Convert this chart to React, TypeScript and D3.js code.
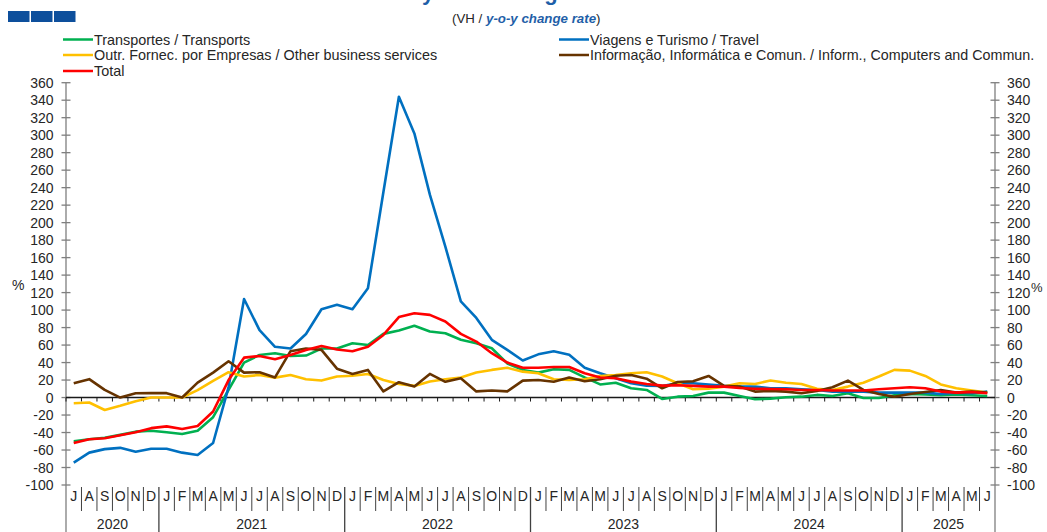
import { scaleBand, scaleLinear, line } from 'd3'

// months Jul 2020 .. Jun 2025
const monthLabels = [
  'J', 'A', 'S', 'O', 'N', 'D',
  'J', 'F', 'M', 'A', 'M', 'J', 'J', 'A', 'S', 'O', 'N', 'D',
  'J', 'F', 'M', 'A', 'M', 'J', 'J', 'A', 'S', 'O', 'N', 'D',
  'J', 'F', 'M', 'A', 'M', 'J', 'J', 'A', 'S', 'O', 'N', 'D',
  'J', 'F', 'M', 'A', 'M', 'J', 'J', 'A', 'S', 'O', 'N', 'D',
  'J', 'F', 'M', 'A', 'M', 'J',
]
const yearLabels = ['2020', '2021', '2022', '2023', '2024', '2025']
const yearMonths = [6, 12, 12, 12, 12, 6]
const yTicks = [-100, -80, -60, -40, -20, 0, 20, 40, 60, 80, 100, 120, 140, 160, 180, 200, 220, 240, 260, 280, 300, 320, 340, 360]

const transports = [
  -50, -47.7, -46, -42.7, -39, -38, -39.7, -41.6, -38, -22.5, 8.7, 40,
  48.7, 50.6, 47.5, 48, 56, 56, 62, 60, 72.8, 76.6, 82, 75.5,
  73.5, 66, 62, 56.4, 39, 31.6, 28.5, 32.3, 31.6, 23, 15, 17,
  10.6, 8.7, -1.6, 1, 1.8, 5.6, 5.6, 1.8, -2, -1.2, 0.3, 1,
  3, 1.8, 5, -0.5, -0.5, 2.6, 4, 3.4, 2.6, 3.4, 2.6, 1.8,
]
const travel = [
  -74.4, -63, -59, -57.5, -62, -58.5, -58.5, -63, -65.6, -52, 12, 112.7,
  77, 58, 56, 72.7, 101, 106, 101, 125, 235, 344, 302, 232,
  172.6, 110, 91, 66, 54.5, 42.3, 49.4, 53, 49, 34, 27.7, 22,
  16.3, 13.6, 13.3, 16.3, 16.3, 14.8, 13.3, 12.5, 12.5, 10.6, 10.6, 9.5,
  8.7, 6.8, 6.8, 6.8, 5.6, 5.6, 5.6, 5.6, 4, 5.6, 5, 6.8,
]
const otherBusiness = [
  -6.5, -5.7, -14.2, -9.5, -4.2, 0, 0, 0, 8.4, 19, 29, 24,
  25.8, 22.8, 25.8, 21, 19.4, 24, 25, 27, 20, 15.6, 13.3, 18.3,
  21, 23, 28.6, 31.6, 34, 29.6, 27.7, 21, 20, 21, 24.7, 25.8,
  27.7, 29, 24, 16.3, 9.5, 10, 12.5, 16.3, 15.5, 19.4, 17, 15.5,
  10, 8.7, 12.5, 17, 24, 31.6, 30.8, 24.7, 15, 10.6, 8, 5.6,
]
const informComputers = [
  16.4, 21, 8.7, 0, 4.9, 5, 5, 0, 17, 28.5, 41.5, 28.5,
  29, 23, 53, 56, 54.5, 33, 27, 31.6, 7, 17.5, 12.6, 27,
  18, 22, 7, 8, 7, 19.4, 20, 18, 22.8, 18.6, 21, 25,
  25.8, 21.6, 10.6, 17.8, 18.6, 24.7, 13.3, 12.5, 6.8, 7.6, 6.8, 5,
  7.6, 11.7, 19.4, 8.7, 4.1, 1, 4, 6.4, 8.7, 5.6, 6.8, 5.6,
]
const total = [
  -52, -47.7, -46.6, -43, -39.7, -35, -33, -36, -32.5, -16, 20, 45.6,
  47.5, 43.8, 48.7, 54.4, 59, 55, 53, 58, 71.6, 92, 96.4, 94.5,
  87, 72.8, 64, 50.7, 40, 34, 34, 35, 35, 27.7, 23, 22,
  18.2, 15.5, 13.6, 14, 13.3, 12.5, 12.5, 11, 10, 9.8, 9.5, 8.7,
  8.7, 8, 8, 8, 9.5, 10.6, 11.7, 10.6, 6.8, 5.6, 6.4, 5,
]

const series = [
  { name: 'Transportes / Transports', values: transports, color: '#00b050' },
  { name: 'Viagens e Turismo / Travel', values: travel, color: '#0070c0' },
  { name: 'Outr. Fornec. por Empresas / Other business services', values: otherBusiness, color: '#ffc000' },
  { name: 'Informação, Informática e Comun. / Inform., Computers and Commun.', values: informComputers, color: '#663300' },
  { name: 'Total', values: total, color: '#ff0000' },
]

const W = 1047, H = 532
const left = 66, right = 995, top = 82.7, bottom = 485
const font = '"Liberation Sans", Arial, sans-serif'
const txt = '#262626'

export default function App() {
  const idx = monthLabels.map((_, i) => i)
  const x = scaleBand<number>().domain(idx).range([left, right])
  const y = scaleLinear().domain([-100, 360]).range([bottom, top])
  const bw = x.bandwidth()
  const y0 = y(0)

  const path = line<number>()
    .x((_, i) => (x(i) as number) + bw / 2)
    .y(d => y(d))

  // year boundaries
  const yearStarts: number[] = []
  let acc = 0
  yearMonths.forEach(n => { yearStarts.push(acc); acc += n })

  const legendLeft = [series[0], series[2], series[4]]
  const legendRight = [series[1], series[3]]
  const legRows = [39.5, 55, 71]

  return (
    <svg width={W} height={H} style={{ position: 'absolute', left: 0, top: 0, background: '#fff' }} fontFamily={font}>
      {/* header */}
      {[0, 1, 2].map(k => (
        <rect key={k} x={8 + k * 23} y={11} width={21.5} height={11} fill='#0d4f9c' />
      ))}
      <text x={247} y={-0.5} fontSize={22} fontWeight='bold' fill='#1f5fa8'>Services Trade by Main Categories</text>
      <text x={452} y={22.5} fontSize={13.3} fill={txt}>
        (VH / <tspan fill='#1f5fa8' fontWeight='bold' fontStyle='italic'>y-o-y change rate</tspan>)
      </text>

      {/* legend */}
      {legendLeft.map((s, i) => (
        <g key={s.name}>
          <line x1={63} x2={93} y1={legRows[i]} y2={legRows[i]} stroke={s.color} strokeWidth={2.5} />
          <text x={94} y={legRows[i] + 5} fontSize={14.4} fill={txt}>{s.name}</text>
        </g>
      ))}
      {legendRight.map((s, i) => (
        <g key={s.name}>
          <line x1={559} x2={589} y1={legRows[i]} y2={legRows[i]} stroke={s.color} strokeWidth={2.5} />
          <text x={590} y={legRows[i] + 5} fontSize={14.3} fill={txt}>{s.name}</text>
        </g>
      ))}

      {/* y axes */}
      <line x1={left} x2={left} y1={top} y2={H} stroke='#7f7f7f' strokeWidth={1.3} />
      <line x1={right} x2={right} y1={top} y2={H} stroke='#7f7f7f' strokeWidth={1.3} />
      {yTicks.map(t => (
        <g key={t}>
          <line x1={left - 4.5} x2={left + 4.5} y1={y(t)} y2={y(t)} stroke='#7f7f7f' strokeWidth={1.3} />
          <line x1={right - 4.5} x2={right + 4.5} y1={y(t)} y2={y(t)} stroke='#7f7f7f' strokeWidth={1.3} />
          <text x={53.5} y={y(t) + 5} fontSize={14} textAnchor='end' fill={txt}>{t}</text>
          <text x={1007} y={y(t) + 5} fontSize={14} fill={txt}>{t}</text>
        </g>
      ))}
      <text x={12} y={290} fontSize={14} fill={txt}>%</text>
      <text x={1031} y={292} fontSize={13} fill={txt}>%</text>

      {/* zero line with ticks */}
      <line x1={left} x2={right} y1={y0} y2={y0} stroke='#1a1a1a' strokeWidth={1.5} />
      {idx.map(i => (
        <line key={i} x1={x(i) as number} x2={x(i) as number} y1={y0} y2={y0 + 4} stroke='#1a1a1a' strokeWidth={1} />
      ))}

      {/* category axis */}
      {idx.map(i => (
        <g key={i}>
          {i > 0 && !yearStarts.includes(i) && (
            <line x1={x(i) as number} x2={x(i) as number} y1={487} y2={511} stroke='#404040' strokeWidth={1} />
          )}
          <text x={(x(i) as number) + bw / 2} y={501} fontSize={14} textAnchor='middle' fill={txt}>{monthLabels[i]}</text>
        </g>
      ))}
      {yearStarts.map((s, k) => (
        <g key={yearLabels[k]}>
          {s > 0 && <line x1={x(s) as number} x2={x(s) as number} y1={487} y2={H} stroke='#404040' strokeWidth={1.3} />}
          <text
            x={((x(s) as number) + (x(s + yearMonths[k] - 1) as number) + bw) / 2}
            y={529} fontSize={14} textAnchor='middle' fill={txt}>{yearLabels[k]}</text>
        </g>
      ))}

      {/* series */}
      {series.map(s => (
        <path key={s.name} d={path(s.values) ?? ''} fill='none' stroke={s.color} strokeWidth={2.6} strokeLinejoin='round' />
      ))}
    </svg>
  )
}
